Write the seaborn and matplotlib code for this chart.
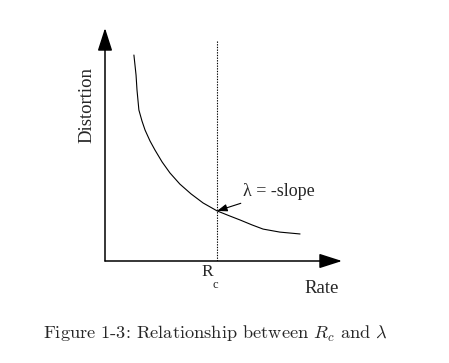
import matplotlib
matplotlib.use('Agg')
import matplotlib.pyplot as plt
import seaborn as sns
import pandas as pd

# curve (rate, distortion), arbitrary units 0..10
rate = [1.22, 1.31, 1.35, 1.43, 1.56, 1.69, 1.90, 2.11, 2.41, 2.74, 3.16, 3.63, 4.14, 4.73,
        5.27, 5.70, 6.20, 6.67, 7.38, 8.23]
distortion = [8.84, 7.98, 7.34, 6.48, 6.01, 5.62, 5.15, 4.76, 4.25, 3.78, 3.30, 2.88, 2.49, 2.15,
              1.93, 1.76, 1.55, 1.37, 1.24, 1.16]
rc = 4.73
rc_point = 2.15
dotted_top = 9.48

data = pd.DataFrame({'Rate': rate, 'Distortion': distortion})

sns.set_style('white')
plt.rcParams['font.family'] = ['Liberation Serif', 'DejaVu Serif']

fig = plt.figure(figsize=(4.49, 3.63), dpi=100)
ax = fig.add_axes([105 / 449, 1 - 261 / 363, 237 / 449, 233 / 363])

sns.lineplot(data=data, x='Rate', y='Distortion', ax=ax, color='black', lw=0.8, sort=False)
ax.set_xlim(0, 10)
ax.set_ylim(0, 10)
for s in ax.spines.values():
    s.set_visible(False)
ax.set_xticks([])
ax.set_yticks([])
ax.set_xlabel('')
ax.set_ylabel('')

# axes arrows
arrow = dict(arrowstyle='-|>,head_length=1.0,head_width=0.32', color='black',
             lw=1.1, mutation_scale=14, shrinkA=0, shrinkB=0)
ax.annotate('', xy=(1, 0), xytext=(0, 0), xycoords='axes fraction', arrowprops=arrow, annotation_clip=False)
ax.annotate('', xy=(0, 1), xytext=(0, 0), xycoords='axes fraction', arrowprops=arrow, annotation_clip=False)

# dotted line at Rc
ax.plot([rc, rc], [0, dotted_top], color='black', lw=0.8, ls=(0, (1.2, 1.2)))

ax.annotate('λ = -slope', xy=(rc, rc_point), xytext=(5.82, 3.0), ha='left', va='center', fontsize=13,
            arrowprops=dict(arrowstyle='-|>,head_length=0.6,head_width=0.22', color='black', lw=0.8,
                            mutation_scale=10, shrinkA=1, shrinkB=0))

ax.text(4.30, -0.47, 'R', ha='center', va='center', fontsize=12.5, clip_on=False)
ax.text(4.66, -1.03, 'c', ha='center', va='center', fontsize=9, clip_on=False)
ax.text(9.15, -1.2, 'Rate', ha='center', va='center', fontsize=13.5, clip_on=False)
ax.text(-0.76, 6.7, 'Distortion', ha='center', va='center', rotation=90, fontsize=13.5, clip_on=False)

fig.text(215 / 449, 1 - 334 / 363, r'Figure 1-3: Relationship between $R_c$ and $\lambda$',
         ha='center', va='center', fontsize=13.2, family=['cmr10', 'DejaVu Serif'], math_fontfamily='cm')

fig.savefig('out.png', dpi=100)
